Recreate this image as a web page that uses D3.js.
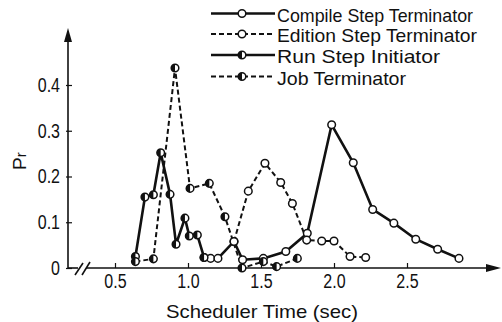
<!DOCTYPE html>
<html>
<head>
<meta charset="utf-8">
<script src="https://cdn.jsdelivr.net/npm/d3@7/dist/d3.min.js"></script>
<style>
  body { margin: 0; background: #fff; }
  text { font-family: "Liberation Sans", Arial, sans-serif; fill: #111; }
</style>
</head>
<body>
<div id="chart"></div>
<script>
// values (scheduler time in sec, probability)
var compileX = [1.11, 1.155, 1.205, 1.315, 1.374, 1.516, 1.67, 1.817, 1.984, 2.132, 2.265, 2.41, 2.56, 2.71, 2.856];
var compileY = [0.023, 0.021, 0.021, 0.058, 0.018, 0.021, 0.036, 0.076, 0.313, 0.23, 0.128, 0.098, 0.063, 0.041, 0.021];

var editionX = [1.315, 1.413, 1.527, 1.635, 1.715, 1.813, 1.916, 2.0, 2.11, 2.217];
var editionY = [0.058, 0.168, 0.229, 0.187, 0.141, 0.061, 0.059, 0.059, 0.025, 0.023];

var runX = [0.64, 0.705, 0.763, 0.813, 0.877, 0.918, 0.979, 1.009, 1.064, 1.11];
var runY = [0.025, 0.155, 0.16, 0.252, 0.161, 0.052, 0.109, 0.07, 0.072, 0.023];

var jobX = [0.64, 0.763, 0.911, 1.014, 1.146, 1.253, 1.37, 1.516, 1.607, 1.749];
var jobY = [0.014, 0.02, 0.437, 0.174, 0.185, 0.112, 0.0, 0.014, 0.003, 0.021];

var xTicks = [0.5, 1.0, 1.5, 2.0, 2.5];
var yTicks = [0, 0.1, 0.2, 0.3, 0.4];

var seriesNames = ["Compile Step Terminator", "Edition Step Terminator", "Run Step Initiator", "Job Terminator"];

var width = 502;
var height = 322;

var svg = d3.select('#chart')
    .append('svg')
    .attr('width', width)
    .attr('height', height);

var x = d3.scaleLinear().domain([1, 2]).range([188, 334]);
var y = d3.scaleLinear().domain([0, 0.4]).range([268, 85]);
var x0 = 68; // y axis position

function pts(xs, ys) {
    return xs.map(function (v, i) { return { x: v, y: ys[i] }; });
}

var series = [
    { name: seriesNames[0], data: pts(compileX, compileY), dash: null, half: false },
    { name: seriesNames[1], data: pts(editionX, editionY), dash: "5,3", half: false },
    { name: seriesNames[2], data: pts(runX, runY), dash: null, half: true },
    { name: seriesNames[3], data: pts(jobX, jobY), dash: "5,3", half: true }
];

// axes
var yAxis = svg.append('g')
    .attr('transform', 'translate(' + x0 + ',0)')
    .call(d3.axisLeft(y).tickValues(yTicks).tickSize(-4).tickPadding(8)
        .tickFormat(function (d) { return d === 0 ? "0" : d.toFixed(1); }));
yAxis.select('.domain').remove();
yAxis.selectAll('line').attr('stroke', '#111').attr('stroke-width', 1.2).attr('x1', -2);
yAxis.selectAll('text')
    .attr('font-size', 20)
    .attr('fill', '#111')
    .attr('transform', 'scale(0.8,1)')
    .attr('x', -8 / 0.8);

var xAxis = svg.append('g')
    .attr('transform', 'translate(0,' + y(0) + ')')
    .call(d3.axisBottom(x).tickValues(xTicks).tickSize(-5).tickPadding(6)
        .tickFormat(d3.format('.1f')));
xAxis.select('.domain').remove();
xAxis.selectAll('line').attr('stroke', '#111').attr('stroke-width', 1.2);
xAxis.selectAll('text')
    .attr('font-size', 20)
    .attr('fill', '#111')
    .attr('transform', 'scale(0.8,1)')
    .attr('x', function (d) { return 0; });

// axis lines with arrows and break
var axisg = svg.append('g').attr('stroke', '#111').attr('stroke-width', 1.6).attr('fill', 'none');
axisg.append('line').attr('x1', x0).attr('y1', y(0)).attr('x2', x0).attr('y2', 38);
axisg.append('line').attr('x1', x0).attr('y1', y(0)).attr('x2', 78).attr('y2', y(0));
axisg.append('line').attr('x1', 86).attr('y1', y(0)).attr('x2', 490).attr('y2', y(0));
axisg.append('line').attr('x1', 75).attr('y1', 275).attr('x2', 83).attr('y2', 263);
axisg.append('line').attr('x1', 82).attr('y1', 275).attr('x2', 90).attr('y2', 262);
svg.append('path').attr('d', 'M' + x0 + ',28 L' + (x0 - 4) + ',42 L' + (x0 + 4) + ',42 Z').attr('fill', '#111');
svg.append('path').attr('d', 'M501,' + y(0) + ' L486,' + (y(0) - 4) + ' L486,' + (y(0) + 4) + ' Z').attr('fill', '#111');

// lines
var line = d3.line().x(function (d) { return x(d.x); }).y(function (d) { return y(d.y); });
var lineg = svg.append('g');
series.forEach(function (s) {
    lineg.append('path')
        .datum(s.data)
        .attr('d', line)
        .attr('fill', 'none')
        .attr('stroke', '#111')
        .attr('stroke-width', s.dash ? 2 : 2.6)
        .attr('stroke-dasharray', s.dash);
});

// markers
var r = 3.8;
function marker(g, cx, cy, half) {
    g.append('circle').attr('cx', cx).attr('cy', cy).attr('r', r)
        .attr('fill', '#fff').attr('stroke', '#111').attr('stroke-width', 1.5);
    if (half) {
        g.append('path')
            .attr('d', 'M' + cx + ',' + (cy - r) + ' A' + r + ',' + r + ' 0 0,0 ' + cx + ',' + (cy + r) + ' Z')
            .attr('fill', '#111');
    }
}
var dotg = svg.append('g');
series.forEach(function (s) {
    s.data.forEach(function (d) { marker(dotg, x(d.x), y(d.y), s.half); });
});

// legend
var legendRows = [13.5, 34, 55, 76.5];
var legendLen = [196, 200, 163, 129];
var legend = svg.append('g');
series.forEach(function (s, i) {
    var ly = legendRows[i];
    legend.append('line')
        .attr('x1', 211).attr('x2', 275).attr('y1', ly).attr('y2', ly)
        .attr('stroke', '#111').attr('stroke-width', s.dash ? 2 : 2.6)
        .attr('stroke-dasharray', s.dash);
    marker(legend, 242, ly, s.half);
    legend.append('text')
        .attr('x', 277).attr('y', ly + 8)
        .attr('font-size', 18.5)
        .attr('textLength', legendLen[i])
        .attr('lengthAdjust', 'spacingAndGlyphs')
        .text(s.name);
});

// axis titles
svg.append('text')
    .attr('x', 166).attr('y', 318)
    .attr('font-size', 19)
    .attr('textLength', 192)
    .attr('lengthAdjust', 'spacingAndGlyphs')
    .text('Scheduler Time (sec)');

var yt = svg.append('text')
    .attr('transform', 'translate(26,170) rotate(-90)')
    .attr('font-size', 19);
yt.append('tspan').text('P');
yt.append('tspan').attr('font-size', 15).text('r');
</script>
</body>
</html>
